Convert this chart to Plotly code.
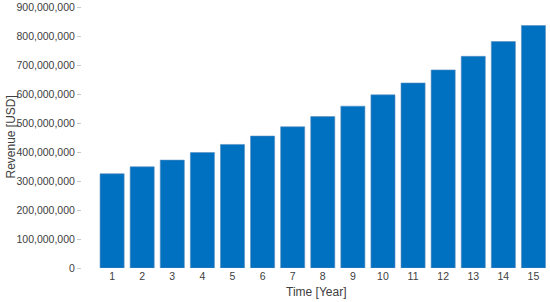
"""Annual revenue bar chart, years 1-15."""

import plotly.graph_objects as go

# Data
years = list(range(1, 16))
revenue_usd = [
    325e6, 349e6, 372e6, 398e6, 426e6,
    455e6, 487e6, 522e6, 558e6, 597e6,
    638e6, 683e6, 730e6, 781e6, 836e6,
]
y_ticks = [i * 100_000_000 for i in range(10)]

BAR_COLOR = "#0070c0"
TEXT_COLOR = "#404040"
FONT = "Liberation Sans, Arial, sans-serif"

fig = go.Figure(
    go.Bar(
        x=years,
        y=revenue_usd,
        width=0.8,
        marker=dict(color=BAR_COLOR, line=dict(color="#5b8fc0", width=0.6)),
    )
)

fig.update_layout(
    width=550,
    height=302,
    margin=dict(l=82, r=0, t=7, b=34),
    plot_bgcolor="white",
    paper_bgcolor="white",
    showlegend=False,
    font=dict(family=FONT, size=10.5, color=TEXT_COLOR),
    xaxis=dict(
        range=[0, 15.55],
        tickmode="array",
        tickvals=years,
        ticktext=[str(y) for y in years],
        showgrid=False,
        zeroline=False,
        showline=False,
        ticks="",
        automargin=False,
    ),
    yaxis=dict(
        range=[0, 900_000_000],
        tickmode="array",
        tickvals=y_ticks,
        ticktext=[f"{v:,}" for v in y_ticks],
        showgrid=False,
        zeroline=False,
        showline=False,
        ticks="outside",
        ticklen=4,
        tickcolor="#c8c8c8",
        automargin=False,
    ),
    annotations=[
        dict(
            text="Time [Year]", xref="paper", yref="paper",
            x=0.5, y=0, yshift=-24, xanchor="center", yanchor="middle",
            showarrow=False, font=dict(size=12),
        ),
        dict(
            text="Revenue [USD]", xref="paper", yref="paper",
            x=0, y=0.5, xshift=-72, xanchor="center", yanchor="middle",
            textangle=-90, showarrow=False, font=dict(size=12),
        ),
    ],
)

# the page's default body margin would shift the figure by 8px
fig.write_html(
    "out.html",
    config={"displayModeBar": False},
    post_script="document.body.style.margin='0';",
)
